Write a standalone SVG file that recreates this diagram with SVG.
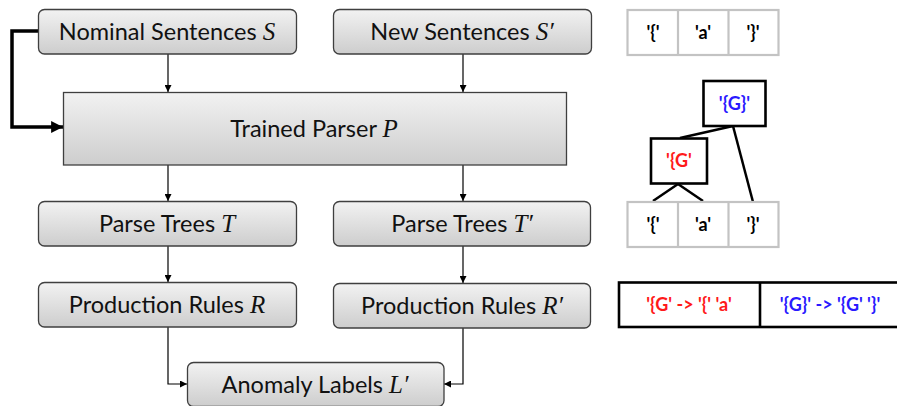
<svg xmlns="http://www.w3.org/2000/svg" width="897" height="406" viewBox="0 0 897 406">
<defs>
<linearGradient id="g" x1="0" y1="0" x2="0" y2="1">
<stop offset="0" stop-color="#f2f2f2"/>
<stop offset="1" stop-color="#cdcdcd"/>
</linearGradient>
<marker id="ah" viewBox="0 0 10 10" refX="10" refY="5" markerWidth="7" markerHeight="7" markerUnits="userSpaceOnUse" orient="auto">
<path d="M0,0 L10,5 L0,10 z" fill="#000"/>
</marker>
<marker id="ahb" viewBox="0 0 10 10" refX="10" refY="5" markerWidth="4" markerHeight="3.4" orient="auto">
<path d="M0,0 L10,5 L0,10 z" fill="#000"/>
</marker>
</defs>
<style>
.box{fill:url(#g);stroke:#3f3f3f;stroke-width:1.3}
.lbl{font-family:"Lato","Liberation Sans",sans-serif;font-size:23.5px;fill:#111;text-anchor:middle}
.m{font-family:"Liberation Serif",serif;font-style:italic;font-size:25px}
.c{fill:none;stroke:#000;stroke-width:1.2}
.tok{fill:#fff;stroke:#c3c3c3;stroke-width:2.2}
.tl{font-family:"Lato","Liberation Sans",sans-serif;font-size:18px;font-weight:bold;text-anchor:middle;fill:#000}
.tb{fill:#fff;stroke:#000;stroke-width:2.6}
.red{fill:#ff1a1a}
.blue{fill:#2a1aff}
</style>

<g id="connectors">
<line class="c" x1="168" y1="54" x2="168" y2="92" marker-end="url(#ah)"/>
<line class="c" x1="463" y1="54" x2="463" y2="92" marker-end="url(#ah)"/>
<polyline fill="none" stroke="#000" stroke-width="3.5" points="38,31 12,31 12,127 63,127" marker-end="url(#ahb)"/>
<line class="c" x1="168" y1="165" x2="168" y2="201" marker-end="url(#ah)"/>
<line class="c" x1="463" y1="165" x2="463" y2="201" marker-end="url(#ah)"/>
<line class="c" x1="168" y1="246" x2="168" y2="282" marker-end="url(#ah)"/>
<line class="c" x1="463" y1="246" x2="463" y2="283" marker-end="url(#ah)"/>
<polyline class="c" points="168,327 168,384 187,384" marker-end="url(#ah)"/>
<polyline class="c" points="463,328 463,384 444,384" marker-end="url(#ah)"/>
</g>

<g id="nominal">
<rect class="box" x="38.5" y="9.5" width="258" height="44.5" rx="6"/>
<text class="lbl" x="167" y="40">Nominal Sentences <tspan class="m">S</tspan></text>
</g>
<g id="new">
<rect class="box" x="333.5" y="9.5" width="258" height="44.5" rx="6"/>
<text class="lbl" x="462" y="40">New Sentences <tspan class="m">S′</tspan></text>
</g>
<g id="parser">
<rect class="box" x="63.5" y="92.5" width="503" height="72.5"/>
<text class="lbl" x="314" y="137">Trained Parser <tspan class="m">P</tspan></text>
</g>
<g id="trees">
<rect class="box" x="38.5" y="201.5" width="258" height="44.5" rx="6"/>
<text class="lbl" x="167" y="232">Parse Trees <tspan class="m">T</tspan></text>
</g>
<g id="trees2">
<rect class="box" x="333.5" y="201.5" width="257" height="44.5" rx="6"/>
<text class="lbl" x="462" y="232">Parse Trees <tspan class="m">T′</tspan></text>
</g>
<g id="rules">
<rect class="box" x="38.5" y="282.5" width="258" height="44.5" rx="6"/>
<text class="lbl" x="167" y="313">Production Rules <tspan class="m">R</tspan></text>
</g>
<g id="rules2">
<rect class="box" x="333.5" y="283.5" width="257" height="44.5" rx="6"/>
<text class="lbl" x="462" y="314">Production Rules <tspan class="m">R′</tspan></text>
</g>
<g id="anomaly">
<rect class="box" x="187.5" y="362.5" width="256.5" height="44" rx="6"/>
<text class="lbl" x="315" y="393">Anomaly Labels <tspan class="m">L′</tspan></text>
</g>

<g id="tokens-top">
<rect class="tok" x="627.5" y="10" width="151" height="45"/>
<line class="tok" x1="678" y1="10" x2="678" y2="55"/>
<line class="tok" x1="728.5" y1="10" x2="728.5" y2="55"/>
<text class="tl" x="653" y="39">'{'</text>
<text class="tl" x="703" y="39">'a'</text>
<text class="tl" x="753" y="39">'}'</text>
</g>

<g id="tree">
<line stroke="#000" stroke-width="2.5" x1="733" y1="126" x2="680" y2="138"/>
<line stroke="#000" stroke-width="2.5" x1="733" y1="126" x2="753" y2="202"/>
<line stroke="#000" stroke-width="2.5" x1="678" y1="184" x2="653" y2="201"/>
<line stroke="#000" stroke-width="2.5" x1="678" y1="184" x2="703" y2="201"/>
<rect class="tb" x="703.5" y="81" width="62" height="45"/>
<text class="tl blue" x="734.5" y="110">'{G}'</text>
<rect class="tb" x="651" y="138.5" width="56" height="45"/>
<text class="tl red" x="679" y="167">'{G'</text>
</g>

<g id="tokens-bottom">
<rect class="tok" x="627.5" y="202" width="151" height="45"/>
<line class="tok" x1="678" y1="202" x2="678" y2="247"/>
<line class="tok" x1="728.5" y1="202" x2="728.5" y2="247"/>
<text class="tl" x="653" y="231">'{'</text>
<text class="tl" x="703" y="231">'a'</text>
<text class="tl" x="753" y="231">'}'</text>
</g>

<g id="rules-table">
<rect class="tb" x="619" y="282.5" width="290" height="44.5"/>
<line class="tb" x1="760" y1="282.5" x2="760" y2="327"/>
<text class="tl red" x="689" y="311">'{G' -&gt; '{' 'a'</text>
<text class="tl blue" x="830" y="311">'{G}' -&gt; '{G' '}'</text>
</g>
</svg>
